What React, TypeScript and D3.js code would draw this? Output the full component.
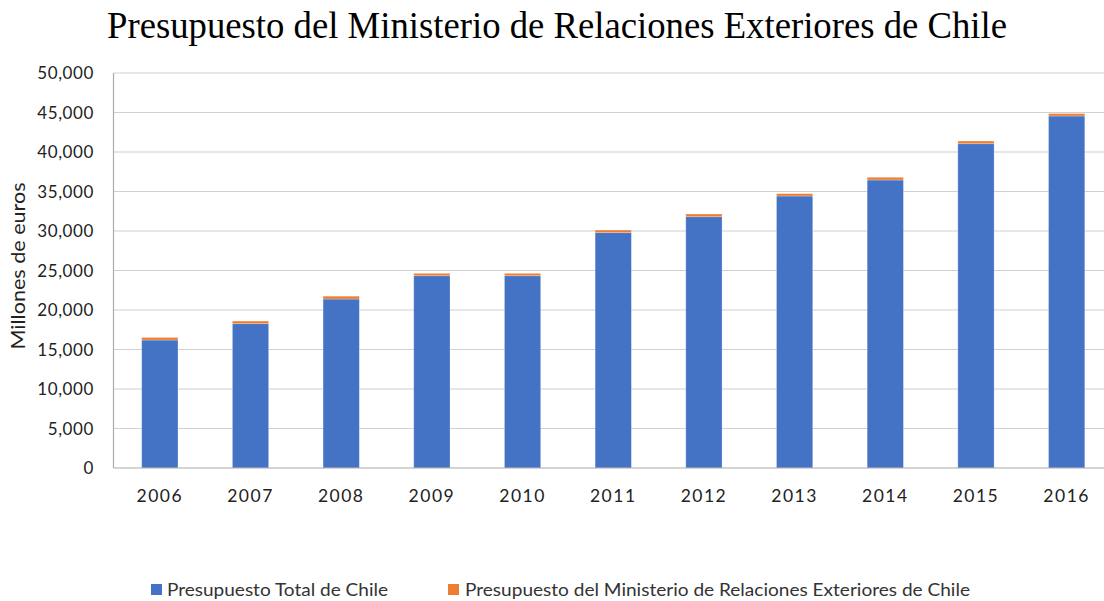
import React from "react";
import * as d3 from "d3";

const years = ["2006","2007","2008","2009","2010","2011","2012","2013","2014","2015","2016"];
const totalChile = [16200, 18270, 21390, 24340, 24340, 29790, 31810, 34430, 36460, 41050, 44560];
const ministerio = [320, 330, 360, 300, 300, 330, 340, 300, 340, 340, 300];
const yTicks = [0, 5000, 10000, 15000, 20000, 25000, 30000, 35000, 40000, 45000, 50000];
const seriesNames = ["Presupuesto Total de Chile", "Presupuesto del Ministerio de Relaciones Exteriores de Chile"];
const colors = ["#4472C4", "#ED7D31"];

export default function App() {
  const W = 1104, H = 601;
  const left = 114.5, right = 1112, top = 73, bottom = 468;
  const x = d3.scaleBand().domain(years).range([left, right]).paddingInner(0.6).paddingOuter(0.3);
  const y = d3.scaleLinear().domain([0, 50000]).range([bottom, top]);
  const fmt = d3.format(",");
  const font = "Lato, 'Noto Sans', sans-serif";
  const stack = d3.stack<any>().keys(["a", "b"])(years.map((yr, i) => ({ yr, a: totalChile[i], b: ministerio[i] })));
  return (
    <svg width={W} height={H} style={{ position: "absolute", left: 0, top: 0, background: "#fff" }}>
      <text x={107} y={38} fontFamily="'Liberation Serif', 'Times New Roman', serif" fontSize={38}
        textLength={900} lengthAdjust="spacingAndGlyphs">
        Presupuesto del Ministerio de Relaciones Exteriores de Chile
      </text>
      {yTicks.map((t) => (
        <g key={t}>
          {t > 0 && <line x1={left - 1} x2={W} y1={y(t)} y2={y(t)} stroke="#d0d0d0" strokeWidth={1.2} />}
          <text x={94} y={y(t) + 6} textAnchor="end" fontFamily={font} fontSize={17} letterSpacing={0.6} fill="#222">{fmt(t)}</text>
        </g>
      ))}
      {stack.map((s, si) => (
        <g key={si}>
          {s.map((d, i) => (
            <rect key={i} x={x(years[i])!} width={x.bandwidth()} y={y(d[1])} height={y(d[0]) - y(d[1])}
              fill={colors[si]} stroke="#fff" strokeOpacity={0.35} strokeWidth={0.8} />
          ))}
        </g>
      ))}
      <line x1={left - 1} x2={left - 1} y1={top} y2={bottom} stroke="#aaa" strokeWidth={1.2} />
      <line x1={left - 1} x2={W} y1={bottom} y2={bottom} stroke="#aaa" strokeWidth={1.2} />
      {years.map((yr) => (
        <text key={yr} x={x(yr)! + x.bandwidth() / 2} y={502} textAnchor="middle" fontFamily={font} fontSize={17.5} letterSpacing={1.5} fill="#222">{yr}</text>
      ))}
      <text transform={`translate(25,${266}) rotate(-90)`} textAnchor="middle" fontFamily={font} fontSize={19}
        textLength={167} lengthAdjust="spacingAndGlyphs" fill="#222">
        Millones de euros
      </text>
      <rect x={151} y={584} width={11} height={11} fill={colors[0]} />
      <text x={167} y={596} fontFamily={font} fontSize={17} textLength={221} lengthAdjust="spacingAndGlyphs" fill="#333">{seriesNames[0]}</text>
      <rect x={448} y={584} width={11} height={11} fill={colors[1]} />
      <text x={465} y={596} fontFamily={font} fontSize={17} textLength={505} lengthAdjust="spacingAndGlyphs" fill="#333">{seriesNames[1]}</text>
    </svg>
  );
}
